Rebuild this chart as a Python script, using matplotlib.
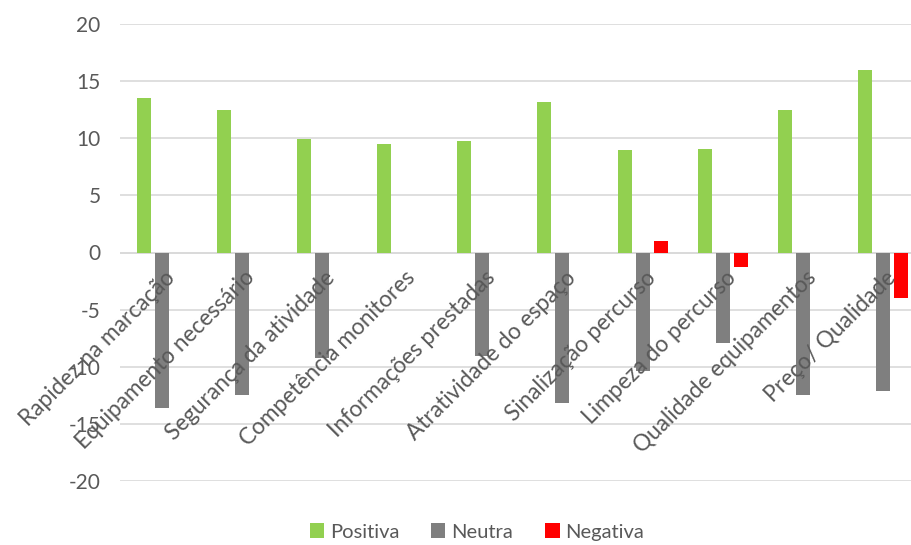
import matplotlib.pyplot as plt
import numpy as np

categorias = ["Rapidez na marcação", "Equipamento necessário", "Segurança da atividade",
              "Competência monitores", "Informações prestadas", "Atratividade do espaço",
              "Sinalização percurso", "Limpeza do percurso", "Qualidade equipamentos",
              "Preço/ Qualidade"]
positiva = [13.5, 12.5, 9.9, 9.5, 9.8, 13.2, 9.0, 9.1, 12.5, 16.0]
neutra = [-13.6, -12.5, -9.2, 0, -9.1, -13.2, -10.4, -7.9, -12.5, -12.1]
negativa = [0, 0, 0, 0, 0, 0, 1.0, -1.3, 0, -4.0]

plt.rcParams['font.family'] = ['Lato', 'DejaVu Sans']
plt.rcParams['axes.unicode_minus'] = False

fig = plt.figure(figsize=(9.12, 5.45), dpi=100)
ax = fig.add_axes([120/912, 64/545, 802/912, 457/545])

x = np.arange(len(categorias))
step = 0.2245
w = 0.175
ax.bar(x - step, positiva, w, color="#92d050", label="Positiva", zorder=3)
ax.bar(x, neutra, w, color="#7f7f7f", label="Neutra", zorder=3)
ax.bar(x + step, negativa, w, color="#ff0000", label="Negativa", zorder=3)

ax.set_xlim(-0.518, 9.36 + (922 - 912)/80.17)
ax.set_ylim(-20, 20)
ax.set_yticks(range(-20, 21, 5))
ax.yaxis.grid(True, color="#d9d9d9", linewidth=1.2, zorder=0)
ax.set_axisbelow(True)

for s in ["top", "right", "left", "bottom"]:
    ax.spines[s].set_visible(False)
ax.axhline(0, color="#d9d9d9", linewidth=1.2, zorder=1)

# rótulos das categorias por cima das barras, como no Excel
ax.set_xticks([])
for i, nome in enumerate(categorias):
    ax.text(i + 0.03, -1.25, nome, rotation=45, ha="right", va="top",
            rotation_mode="anchor", fontsize=16.3, color="#595959", zorder=5)
ax.tick_params(axis="y", length=0, pad=14, labelsize=15, labelcolor="#595959")

fig.legend(loc="center", bbox_to_anchor=(477/912, 13/545), ncol=3, frameon=False,
           fontsize=14.5, labelcolor="#595959", handlelength=0.7, handleheight=0.7,
           handletextpad=0.3, columnspacing=1.6)

fig.savefig("out.png", dpi=100)
